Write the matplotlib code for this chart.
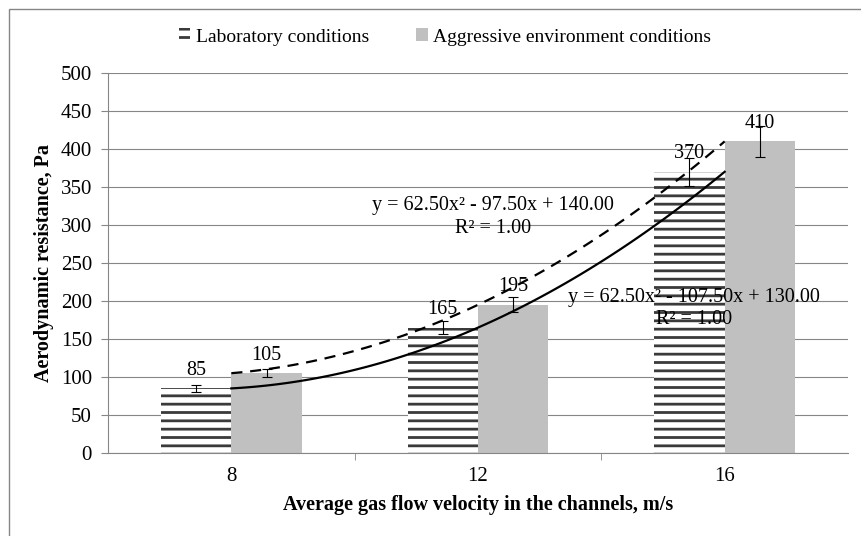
import numpy as np
from matplotlib import pyplot as plt
from matplotlib.patches import Rectangle, Patch

plt.rcParams['font.family'] = ['Liberation Serif', 'DejaVu Serif']
plt.rcParams['hatch.linewidth'] = 2.0

velocity = ['8', '12', '16']
lab = [85, 165, 370]
aggressive = [105, 195, 410]
err_frac = 0.05

gray_line = '#868686'
hatch_col = '#3a3a3a'

fig = plt.figure(figsize=(8.62, 5.36), dpi=100)
ax = fig.add_axes([108 / 862, 1 - 453 / 536, 740 / 862, 380 / 536])

x = np.arange(len(velocity))
w = 1 / 3.5
lab_err = [v * err_frac for v in lab]
agg_err = [v * err_frac for v in aggressive]

ax.bar(x - w / 2, lab, w, color='white', edgecolor=hatch_col, linewidth=0,
       hatch='--', zorder=2, label='Laboratory conditions')
ax.bar(x + w / 2, aggressive, w, color='#c0c0c0', linewidth=0, zorder=2,
       label='Aggressive environment conditions')
ax.errorbar(x - w / 2, lab, yerr=lab_err, fmt='none', ecolor='black',
            elinewidth=0.8, capsize=3.5, capthick=0.8, zorder=3)
ax.errorbar(x + w / 2, aggressive, yerr=agg_err, fmt='none', ecolor='black',
            elinewidth=0.8, capsize=3.5, capthick=0.8, zorder=3)

for xi, v in zip(x - w / 2, lab):
    ax.annotate(str(v), (xi, v), xytext=(0, 13), textcoords='offset points',
                ha='center', va='center', fontsize=14.5, zorder=5)
for xi, v in zip(x + w / 2, aggressive):
    ax.annotate(str(v), (xi, v), xytext=(0, 13), textcoords='offset points',
                ha='center', va='center', fontsize=14.5, zorder=5)

# polynomial trendlines (order 2) over category index 1..3
idx = np.arange(1, len(velocity) + 1)
xs = np.linspace(1, 3, 100)
p_lab = np.polyfit(idx, lab, 2)
p_agg = np.polyfit(idx, aggressive, 2)
ax.plot(xs - 1, np.polyval(p_lab, xs), color='black', lw=1.6, zorder=4)
ax.plot(xs - 1, np.polyval(p_agg, xs), color='black', lw=1.6,
        dashes=(5, 3.5), zorder=4)

def eq_text(p):
    return 'y = %.2fx² - %.2fx + %.2f' % (p[0], -p[1], p[2])

ax.text(1.06, 326, eq_text(p_agg), ha='center', va='center', fontsize=14.5, zorder=5)
ax.text(1.06, 296, 'R² = 1.00', ha='center', va='center', fontsize=14.5, zorder=5)
ax.text(1.875, 204, eq_text(p_lab), ha='center', va='center', fontsize=14.5, zorder=5)
ax.text(1.875, 175, 'R² = 1.00', ha='center', va='center', fontsize=14.5, zorder=5)

ax.set_xlim(-0.5, 2.5)
ax.set_ylim(0, 500)
ax.set_yticks(np.arange(0, 501, 50))
ax.set_xticks(x)
ax.set_xticklabels(velocity)
ax.set_xticks([0.5, 1.5], minor=True)
ax.tick_params(axis='x', which='major', length=0, labelsize=15, pad=10)
ax.tick_params(axis='x', which='minor', length=5, color=gray_line)
ax.tick_params(axis='y', length=5, color=gray_line, labelsize=15, pad=6.5)
ax.grid(axis='y', color=gray_line, lw=0.8, zorder=0)
ax.set_axisbelow(True)
for s in ['top', 'right']:
    ax.spines[s].set_visible(False)
for s in ['left', 'bottom']:
    ax.spines[s].set_color(gray_line)
    ax.spines[s].set_linewidth(0.8)

ax.set_xlabel('Average gas flow velocity in the channels, m/s', fontsize=14.5,
              fontweight='bold')
ax.set_ylabel('Aerodynamic resistance, Pa', fontsize=14.5, fontweight='bold')
ax.xaxis.set_label_coords(0.5, -(505 - 453) / 380)
ax.yaxis.set_label_coords(-(108 - 44) / 740, 0.5)
ax.xaxis.label.set_va('center')
ax.yaxis.label.set_va('center')

handles = [Patch(facecolor='white', edgecolor=hatch_col, linewidth=0, hatch='--'),
           Patch(facecolor='#c0c0c0', linewidth=0)]
fig.legend(handles, ['Laboratory conditions', 'Aggressive environment conditions'],
           loc='center', bbox_to_anchor=(445 / 862, 1 - 37 / 536), ncol=2,
           frameon=False, fontsize=14, handlelength=0.6, handleheight=0.6,
           handletextpad=0.3, columnspacing=2.4)

# outer chart border
fig.add_artist(Rectangle((9 / 862, -0.1), 1.1, 1.1 - 9 / 536, transform=fig.transFigure,
                         fill=False, edgecolor=gray_line, lw=1))

fig.savefig('out.png', dpi=100)
